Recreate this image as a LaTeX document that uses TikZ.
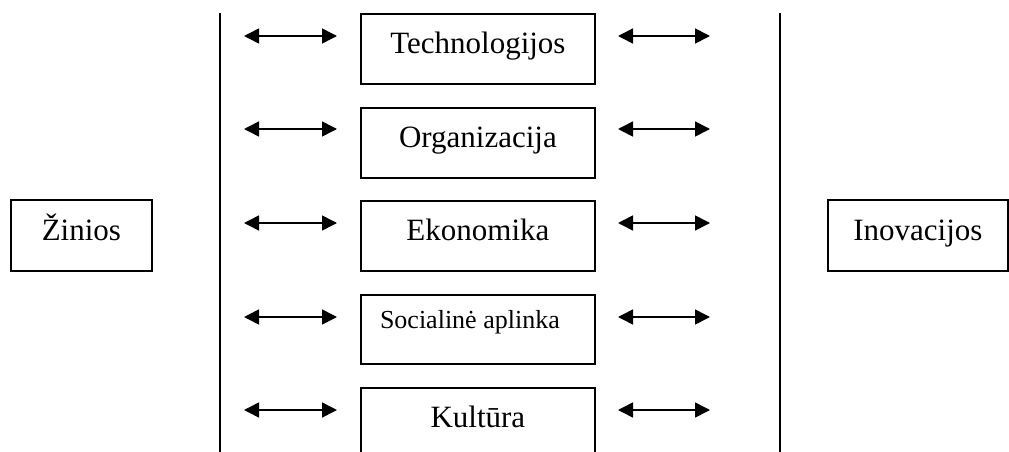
\documentclass[tikz,border=0pt]{standalone}
\usepackage{fontspec}
\setmainfont{Liberation Serif}
\usetikzlibrary{arrows.meta}
\begin{document}
\begin{tikzpicture}[x=1pt,y=-1pt,
  box/.style={draw,line width=1.8pt,inner sep=0pt,anchor=north west,
    font=\fontsize{31}{37}\selectfont,text height=40pt,text depth=30pt},
  midbox/.style={box,minimum width=234pt},
  twoway/.style={{Triangle[length=15pt,width=15pt]}-{Triangle[length=15pt,width=15pt]},line width=1.6pt},
  divider/.style={line width=1.6pt}]
\useasboundingbox (0,0) rectangle (1009,452);
\clip (0,0) rectangle (1009,452);

% outer boxes
\node[box,minimum width=141pt,text height=41pt] (ziniosbox) at (10,199) {Žinios};
\node[box,minimum width=180pt,text height=41pt] (inovbox) at (827,199) {Inovacijos};

% dividing lines
\coordinate (dl1) at (220,13);
\coordinate (dl2) at (220,460);
\coordinate (dr1) at (780,13);
\coordinate (dr2) at (780,460);
\draw[divider] (dl1) -- (dl2);
\draw[divider] (dr1) -- (dr2);

% middle column
\node[midbox] (tech) at (360,13) {Technologijos};
\node[midbox] (org) at (360,107) {Organizacija};
\node[midbox] (eko) at (360,200) {Ekonomika};
\node[midbox,font=\fontsize{26}{31}\selectfont,text height=34pt,text depth=35pt] (soc) at (360,294) {Socialinė aplinka\kern16pt};
\node[midbox,text depth=45pt] (kult) at (360,387) {Kultūra};

% two-way arrows on both sides of each box
\foreach \y [count=\i] in {36,129,223,317,410} {
  \coordinate (la\i) at (244,\y);
  \coordinate (lb\i) at (337,\y);
  \coordinate (ra\i) at (618,\y);
  \coordinate (rb\i) at (710,\y);
  \draw[twoway] (la\i) -- (lb\i);
  \draw[twoway] (ra\i) -- (rb\i);
}
\end{tikzpicture}
\end{document}
